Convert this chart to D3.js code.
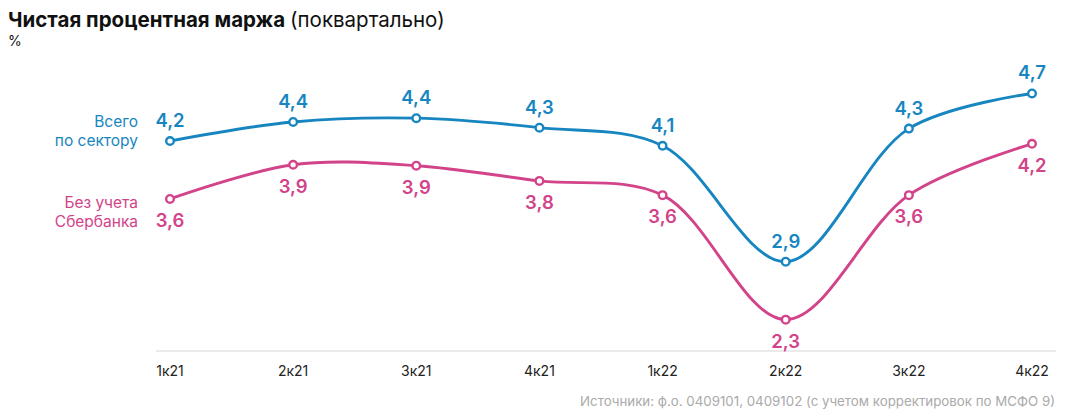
<!DOCTYPE html>
<html>
<head>
<meta charset="utf-8">
<script src="https://cdn.jsdelivr.net/npm/d3@7"></script>
<style>
  body { margin: 0; background: #fff; }
  svg { font-family: Inter, 'Noto Sans', sans-serif; }
</style>
</head>
<body>
<div id="chart"></div>
<script>
// Data
const quarters = ['1к21', '2к21', '3к21', '4к21', '1к22', '2к22', '3к22', '4к22'];
const totalSector = [4.19, 4.39, 4.43, 4.33, 4.14, 2.92, 4.32, 4.69];
const withoutSber = [3.58, 3.94, 3.93, 3.77, 3.62, 2.31, 3.62, 4.16];
const seriesLabels = [['Всего', 'по сектору'], ['Без учета', 'Сбербанка']];

const width = 1070;
const height = 418;
const blue = '#1786c0';
const pink = '#d2438a';

const svg = d3.select('#chart')
  .append('svg')
    .attr('width', width)
    .attr('height', height);

// Title
const title = svg.append('text')
  .attr('x', 8)
  .attr('y', 27)
  .attr('font-size', 20.5)
  .attr('fill', '#111');
title.append('tspan').attr('font-weight', 700).text('Чистая процентная маржа ');
title.append('tspan').attr('font-weight', 400).text('(поквартально)');

svg.append('text')
  .attr('x', 8)
  .attr('y', 46)
  .attr('font-size', 14)
  .attr('fill', '#111')
  .text('%');

// Scales
const x = d3.scalePoint()
  .domain(quarters)
  .range([170, 1032]);

const y = d3.scaleLinear()
  .domain([1.98, 5])
  .range([351, 64]);

// Bottom axis (plain line + labels)
svg.append('line')
  .attr('x1', 156)
  .attr('x2', 1056)
  .attr('y1', y(1.98))
  .attr('y2', y(1.98))
  .attr('stroke', '#d6d6d6')
  .attr('stroke-width', 1);

svg.append('g')
  .selectAll('text')
  .data(quarters)
  .join('text')
    .attr('x', d => x(d))
    .attr('y', 376)
    .attr('text-anchor', 'middle')
    .attr('font-size', 14)
    .attr('fill', '#222')
    .text(d => d);

// Lines
const fmt = v => d3.format('.1f')(v).replace('.', ',');
const line = d3.line()
  .x((d, i) => x(quarters[i]))
  .y(d => y(d))
  .curve(d3.curveCatmullRom.alpha(0.5));

const series = [
  { values: totalSector, color: blue, labelDy: -14, names: seriesLabels[0] },
  { values: withoutSber, color: pink, labelDy: 28, names: seriesLabels[1] },
];

series.forEach(s => {
  const g = svg.append('g');

  g.append('path')
    .datum(s.values)
    .attr('d', line)
    .attr('fill', 'none')
    .attr('stroke', s.color)
    .attr('stroke-width', 2.9);

  g.selectAll('circle')
    .data(s.values)
    .join('circle')
      .attr('cx', (d, i) => x(quarters[i]))
      .attr('cy', d => y(d))
      .attr('r', 3.8)
      .attr('fill', '#fff')
      .attr('stroke', s.color)
      .attr('stroke-width', 2.4);

  g.selectAll('.value-label')
    .data(s.values)
    .join('text')
      .attr('class', 'value-label')
      .attr('x', (d, i) => x(quarters[i]))
      .attr('y', d => y(d) + s.labelDy)
      .attr('text-anchor', 'middle')
      .attr('font-size', 18.5)
      .attr('font-weight', 600)
      .attr('fill', s.color)
      .text(d => fmt(d));

  // Series name on the left
  const y0 = y(s.values[0]);
  g.selectAll('.series-name')
    .data(s.names)
    .join('text')
      .attr('class', 'series-name')
      .attr('x', 138)
      .attr('y', (d, i) => (s.labelDy < 0 ? y0 - 14 : y0 + 9) + i * 19)
      .attr('text-anchor', 'end')
      .attr('font-size', 15.5)
      .attr('fill', s.color)
      .text(d => d);
});

// Source
svg.append('text')
  .attr('x', 1055)
  .attr('y', 406)
  .attr('text-anchor', 'end')
  .attr('font-size', 13.3)
  .attr('fill', '#aaa')
  .text('Источники: ф.о. 0409101, 0409102 (с учетом корректировок по МСФО 9)');
</script>
</body>
</html>
